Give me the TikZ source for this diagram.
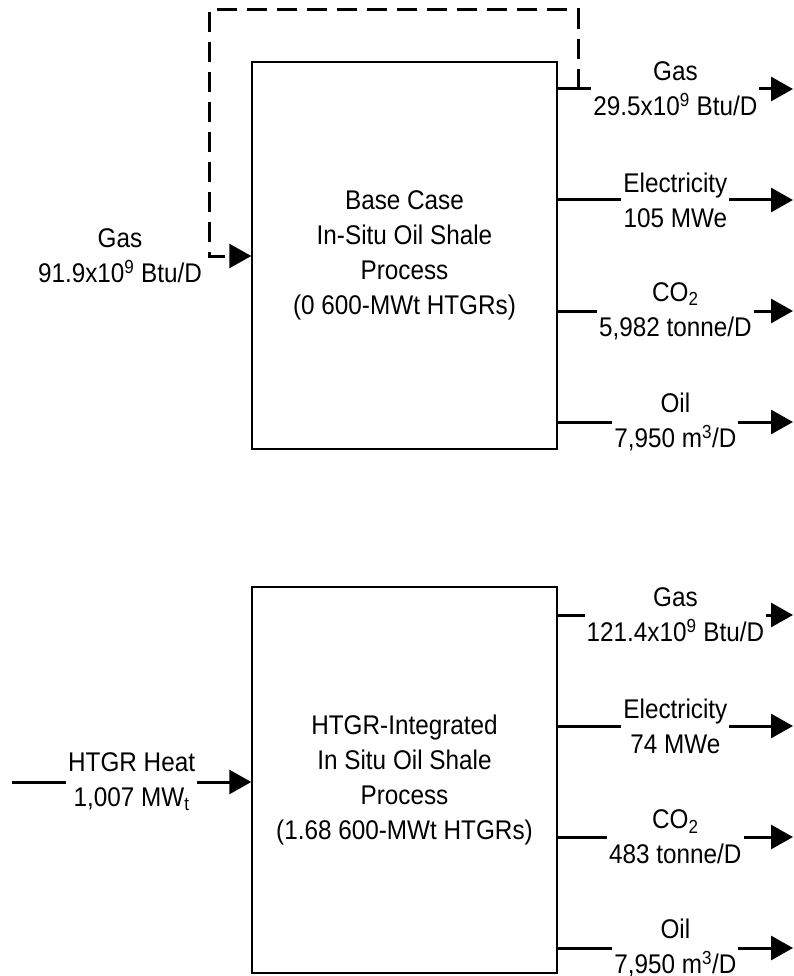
\documentclass[tikz,border=0pt]{standalone}
\usepackage{fontspec}
\setmainfont{Liberation Sans}[FakeStretch=0.9]
\usetikzlibrary{arrows.meta}
\begin{document}
\begin{tikzpicture}[x=1pt,y=-1pt,
  every node/.style={font=\fontsize{27}{35}\selectfont},
  proc/.style={draw, line width=1.5pt, minimum width=305pt, minimum height=387pt, align=center, inner sep=0pt},
  flow/.style={line width=3pt, -{Triangle[length=22pt,width=24pt]}},
  lbl/.style={fill=white, align=center, inner sep=2pt},
  fb/.style={line width=3pt, dash pattern=on 20pt off 10pt, -{Triangle[length=22pt,width=24pt]}}
]
\useasboundingbox (0,0) rectangle (794,976);

% boxes
\node[proc] (base) at (404.5,255.5) {Base Case\\In-Situ Oil Shale\\Process\\(0 600-MWt HTGRs)};
\node[proc, minimum height=386pt] (htgr) at (404.5,780) {HTGR-Integrated\\In Situ Oil Shale\\Process\\(1.68 600-MWt HTGRs)};

% top outputs
\coordinate (g1) at (793,89);
\coordinate (e1) at (793,200);
\coordinate (c1) at (793,311);
\coordinate (o1) at (793,422);
\draw[flow] (base.east |- g1) -- node[lbl]{Gas\\29.5x10\textsuperscript{9} Btu/D} (g1);
\draw[flow] (base.east |- e1) -- node[lbl]{Electricity\\105 MWe} (e1);
\draw[flow] (base.east |- c1) -- node[lbl]{CO\textsubscript{2}\\5,982 tonne/D} (c1);
\draw[flow] (base.east |- o1) -- node[lbl]{Oil\\7,950 m\textsuperscript{3}/D} (o1);

% recycle gas (dashed)
\coordinate (fs) at (578,89);
\coordinate (fa) at (578,10);
\coordinate (fb) at (209,10);
\coordinate (fc) at (209,256);
\draw[fb] (fs) -- (fa) -- (fb) -- (fc) -- (fc -| base.west);
\node[align=center] (gin) at (120,256) {Gas\\91.9x10\textsuperscript{9} Btu/D};

% bottom outputs
\coordinate (g2) at (793,615);
\coordinate (e2) at (793,726);
\coordinate (c2) at (793,837);
\coordinate (o2) at (793,948);
\draw[flow] (htgr.east |- g2) -- node[lbl]{Gas\\121.4x10\textsuperscript{9} Btu/D} (g2);
\draw[flow] (htgr.east |- e2) -- node[lbl]{Electricity\\74 MWe} (e2);
\draw[flow] (htgr.east |- c2) -- node[lbl]{CO\textsubscript{2}\\483 tonne/D} (c2);
\draw[flow] (htgr.east |- o2) -- node[lbl]{Oil\\7,950 m\textsuperscript{3}/D} (o2);

% HTGR heat input
\coordinate (hs) at (12,782);
\draw[flow] (hs) -- node[lbl]{HTGR Heat\\1,007 MW\textsubscript{t}} (hs -| htgr.west);
\end{tikzpicture}
\end{document}
